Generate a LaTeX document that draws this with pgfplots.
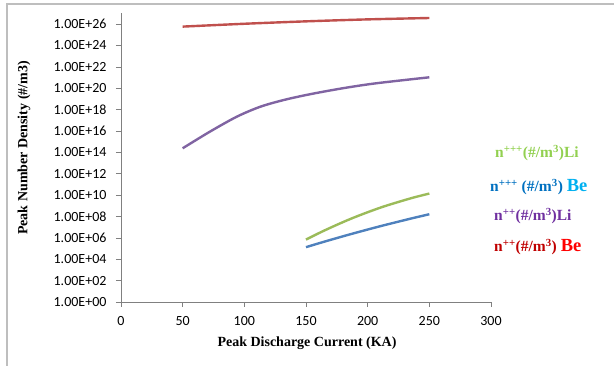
\documentclass[border=0pt]{standalone}
\usepackage{pgfplots}
\pgfplotsset{compat=1.18}
\usepackage{fontspec}
\setmainfont{Liberation Serif}
\newfontfamily\carlito{Carlito}
\definecolor{cred}{RGB}{192,80,77}
\definecolor{cpurple}{RGB}{128,100,162}
\definecolor{cgreen}{RGB}{155,187,89}
\definecolor{cblue}{RGB}{79,129,189}
\definecolor{tgreen}{RGB}{146,208,80}
\definecolor{tblue}{RGB}{0,112,192}
\definecolor{tblue2}{RGB}{0,176,240}
\definecolor{tpurple}{RGB}{112,48,160}
\definecolor{tred}{RGB}{192,0,0}
\definecolor{tred2}{RGB}{255,0,0}
\definecolor{frame}{RGB}{190,190,190}
\begin{document}
\begin{tikzpicture}[x=1pt,y=1pt]
\path[use as bounding box] (0,0) rectangle (614,366);
\draw[frame,line width=1.5pt] (7,0) -- (7,362) -- (614,362);
\begin{axis}[
  at={(121pt,64pt)}, anchor=south west,
  scale only axis, width=370pt, height=288.6pt,
  xmin=0, xmax=300, ymin=1, ymax=1e27,
  ymode=log,
  axis lines*=left,
  axis line style={-, draw=gray},
  tick style={draw=gray, line width=0.6pt},
  tick align=outside,
  major tick length=5pt,
  minor tick num=0,
  xtick={0,50,...,300},
  ytick={1,1e2,1e4,1e6,1e8,1e10,1e12,1e14,1e16,1e18,1e20,1e22,1e24,1e26},
  yticklabels={1.00E+00,1.00E+02,1.00E+04,1.00E+06,1.00E+08,1.00E+10,1.00E+12,1.00E+14,1.00E+16,1.00E+18,1.00E+20,1.00E+22,1.00E+24,1.00E+26},
  /pgf/number format/assume math mode=true,
  tick label style={font=\carlito\fontsize{14}{14}\selectfont},
  xticklabel style={yshift=-6pt},
  yticklabel style={xshift=-6pt},
  clip=false,
]
\addplot[cred, line width=2.4pt, smooth] coordinates {(50,5.8e25) (100,1.07e26) (150,1.8e26) (200,2.75e26) (250,3.7e26)};
\addplot[cpurple, line width=2.4pt, smooth] coordinates {(50,2.4e14) (72,8.5e15) (94,2.2e17) (113,1.86e18) (132,7.9e18) (153,2.7e19) (180,1e20) (207,2.9e20) (250,1.05e21)};
\addplot[cgreen, line width=2.4pt, smooth] coordinates {(150,6.9e5) (162.5,3.6e6) (175,1.66e7) (187.5,6.9e7) (200,2.5e8) (212.5,8.2e8) (225,2.3e9) (237.5,6.05e9) (250,1.4e10)};
\addplot[cblue, line width=2.4pt, smooth] coordinates {(150,1.35e5) (162.5,3.66e5) (175,9.6e5) (187.5,2.44e6) (200,6.0e6) (212.5,1.44e7) (225,3.3e7) (237.5,7.46e7) (250,1.62e8)};
\end{axis}
\node[font=\bfseries\fontsize{14}{14}\selectfont] at (307,23) {Peak Discharge Current (KA)};
\node[font=\bfseries\fontsize{14}{14}\selectfont, rotate=90] at (24,218) {Peak Number Density (\#/m3)};
\node[anchor=west, inner sep=0pt, text=tgreen, font=\bfseries\fontsize{15.5}{15.5}\selectfont] at (495,213) {n\textsuperscript{+++}(\#/m\textsuperscript{3})Li};
\node[anchor=west, inner sep=0pt, text=tblue, font=\bfseries\fontsize{15.5}{15.5}\selectfont] at (490,179) {n\textsuperscript{+++} (\#/m\textsuperscript{3}) \textcolor{tblue2}{\fontsize{18.5}{18.5}\selectfont Be}};
\node[anchor=west, inner sep=0pt, text=tpurple, font=\bfseries\fontsize{15.5}{15.5}\selectfont] at (494,150) {n\textsuperscript{++}(\#/m\textsuperscript{3})Li};
\node[anchor=west, inner sep=0pt, text=tred, font=\bfseries\fontsize{15.5}{15.5}\selectfont] at (494,119) {n\textsuperscript{++}(\#/m\textsuperscript{3}) \textcolor{tred2}{\fontsize{18.5}{18.5}\selectfont Be}};
\end{tikzpicture}
\end{document}
